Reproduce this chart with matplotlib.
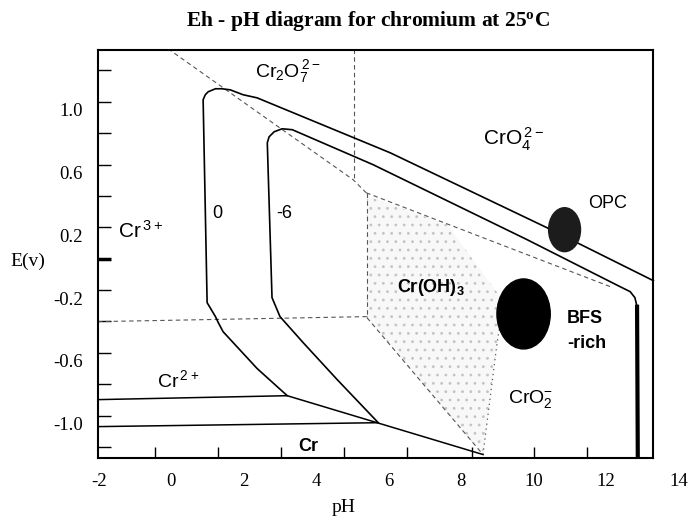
import matplotlib.pyplot as plt
from matplotlib.patches import Ellipse
from matplotlib.transforms import ScaledTranslation

plt.rcParams['mathtext.default'] = 'regular'
plt.rcParams['hatch.linewidth'] = 0.8

# axis ticks and labels
ph_labels = [-2, 0, 2, 4, 6, 8, 10, 12, 14]
ph_minor = [-0.44, 1.29, 3.03, 4.77, 6.51, 8.30, 10.01, 11.47]
e_ticks = [1.2, 1.0, 0.8, 0.6, 0.4, 0.2, 0.0, -0.2, -0.4, -0.6, -0.8, -1.0, -1.2]
e_labels = ['', '1.0', '', '0.6', '', '0.2', '', '-0.2', '', '-0.6', '', '-1.0', '']

# stability boundary for log[Cr] = 0
curve0_ph = [3.20, 2.37, 1.43, 1.30, 1.22, 0.99, 0.88, 0.94, 1.02, 1.22, 1.40, 1.63, 1.98, 2.37, 6.04, 10.37, 13.30]
curve0_e = [-0.873, -0.70, -0.465, -0.408, -0.369, -0.280, 1.013, 1.045, 1.064, 1.083, 1.083, 1.076, 1.045, 1.025, 0.675, 0.197, -0.14]

# stability boundary for log[Cr] = -6
curve6_ph = [5.71, 4.58, 3.64, 3.00, 2.78, 2.65, 2.70, 2.84, 3.06, 3.34, 5.57, 9.82, 12.38, 12.66, 12.79, 12.85]
curve6_e = [-1.045, -0.771, -0.535, -0.369, -0.248, 0.739, 0.777, 0.809, 0.828, 0.822, 0.599, 0.121, -0.178, -0.210, -0.248, -0.306]
right6_ph = [12.85, 12.87]
right6_e = [-0.306, -1.27]

# Cr2+ / Cr lines
cr2_ph = [-2.02, 3.20, 8.60]
cr2_e = [-0.898, -0.873, -1.248]
cr_ph = [-2.02, 5.71]
cr_e = [-1.070, -1.045]

# dashed species boundaries
d1_ph, d1_e = [-0.09, 5.02, 5.38], [1.338, 0.503, 0.420]
d2_ph, d2_e = [5.05, 5.05], [1.338, 0.503]
d3_ph, d3_e = [5.38, 12.19], [0.420, -0.185]
d4_ph, d4_e = [5.40, 5.40], [0.420, -0.376]
d5_ph, d5_e = [-2.02, 5.40], [-0.401, -0.369]
d6_ph, d6_e = [5.40, 8.60], [-0.376, -1.248]
d7_ph, d7_e = [8.60, 8.99, 9.05], [-1.248, -0.535, -0.45]

# Cr(OH)3 shaded field
shade_ph = [5.40, 5.40, 8.60, 8.99, 9.10, 7.60]
shade_e = [0.40, -0.376, -1.248, -0.535, -0.25, 0.22]

# OPC and BFS-rich regions (centre pH, centre E, width, height)
opc = (10.85, 0.185, 0.88, 0.28)
bfs = (9.72, -0.352, 1.47, 0.446)

fig = plt.figure(figsize=(6.88, 5.23), dpi=100)
ax = fig.add_axes([98 / 688, 1 - 458 / 523, 588 / 688, 408 / 523])
ax.set_xlim(-2.02, 14.2)
ax.set_ylim(-1.27, 1.33)

ax.fill(shade_ph, shade_e, facecolor='#f8f8f8', edgecolor='#c4c4c4', hatch='..', linewidth=0, zorder=1)

dash = dict(color='#555555', lw=0.8, linestyle=(0, (4, 3)), zorder=2)
for xs, ys in [(d1_ph, d1_e), (d2_ph, d2_e), (d3_ph, d3_e), (d4_ph, d4_e), (d5_ph, d5_e), (d6_ph, d6_e)]:
    ax.plot(xs, ys, **dash)
ax.plot(d7_ph, d7_e, color='#555555', lw=0.9, linestyle=(0, (1, 3)), zorder=2)

ax.plot(curve0_ph, curve0_e, color='black', lw=1.2, zorder=3)
ax.plot(curve6_ph, curve6_e, color='black', lw=1.2, zorder=3)
ax.plot(right6_ph, right6_e, color='black', lw=3, zorder=3)
ax.plot(cr2_ph, cr2_e, color='black', lw=1.1, zorder=3)
ax.plot(cr_ph, cr_e, color='black', lw=1.1, zorder=3)

ax.add_patch(Ellipse(opc[:2], opc[2], opc[3], color='#1c1c1c', zorder=5))
ax.add_patch(Ellipse(bfs[:2], bfs[2], bfs[3], color='black', zorder=5))

sans = 'Liberation Sans'
ax.text(2.31, 1.159, 'Cr$_2$O$_7^{\\,2-}$', family=sans, fontsize=14, va='baseline')
ax.text(8.60, 0.72, 'CrO$_4^{\\,2-}$', family=sans, fontsize=15, va='baseline')
ax.text(-1.46, 0.134, 'Cr$^{\\,3+}$', family=sans, fontsize=15, va='baseline')
ax.text(-0.39, -0.815, 'Cr$^{\\,2+}$', family=sans, fontsize=14, va='baseline')
ax.text(9.29, -0.917, 'CrO$_2^{-}$', family=sans, fontsize=14, va='baseline')
ax.text(1.28, 0.29, '0', family=sans, fontsize=13, ha='center', va='center')
ax.text(3.11, 0.29, '-6', family=sans, fontsize=13, ha='center', va='center')
ax.text(11.50, 0.325, 'OPC', family=sans, fontsize=13, va='baseline')
ax.text(3.79, -1.223, 'Cr', family=sans, fontsize=13, fontweight='bold', ha='center', va='baseline')
ax.text(6.23, -0.21, 'Cr(OH)$_3$', family=sans, fontsize=13, fontweight='bold', va='baseline')
ax.text(10.92, -0.408, 'BFS', family=sans, fontsize=13, fontweight='bold', va='baseline')
ax.text(10.92, -0.567, '-rich', family=sans, fontsize=13, fontweight='bold', va='baseline')

# frame: right edge sits at pH 13.3, the 14 label lies outside it
ax.spines['right'].set_position(('data', 13.3))
ax.spines['top'].set_bounds(-2.02, 13.3)
ax.spines['bottom'].set_bounds(-2.02, 13.3)
for s in ax.spines.values():
    s.set_linewidth(1.5)

serif = 'Liberation Serif'
ax.set_xticks(ph_labels)
ax.set_xticklabels([str(v) for v in ph_labels], family=serif, fontsize=13.5)
ax.set_xticks(ph_minor, minor=True)
ax.tick_params(axis='x', which='major', length=0, pad=11)
ax.tick_params(axis='x', which='minor', direction='in', length=8, width=1)
ax.set_yticks(e_ticks)
ax.set_yticklabels(e_labels, family=serif, fontsize=13.5)
ax.tick_params(axis='y', direction='in', length=9, width=1, pad=11)
ax.yaxis.get_major_ticks()[6].tick1line.set_markeredgewidth(2.5)
shift = ScaledTranslation(0, -0.08, fig.dpi_scale_trans)
for lbl in ax.get_yticklabels():
    lbl.set_transform(lbl.get_transform() + shift)

ax.set_xlabel('pH', family=serif, fontsize=14, va='center')
ax.xaxis.set_label_coords(0.417, -0.1225)
ax.set_ylabel('E(v)', family=serif, fontsize=14, rotation=0, ha='center', va='center')
ax.yaxis.set_label_coords(-0.119, 0.483)

fig.text(368 / 688, 1 - 26 / 523, 'Eh - pH diagram for chromium at 25$^{o}$C',
         family=serif, fontsize=15.5, fontweight='bold', ha='center', va='baseline')

fig.savefig('out.png', dpi=100)
